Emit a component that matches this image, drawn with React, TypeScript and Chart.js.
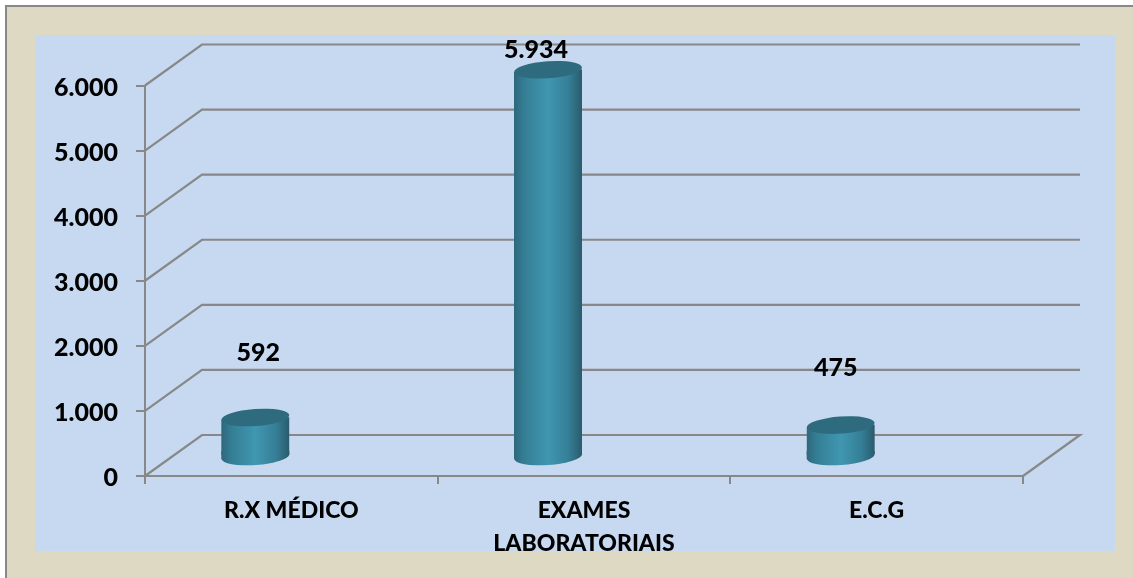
import React, { useEffect, useRef } from "react";
import { Chart, registerables } from "chart.js";

Chart.register(...registerables);

const categories: (string | string[])[] = ["R.X MÉDICO", ["EXAMES", "LABORATORIAIS"], "E.C.G"];
const values = [592, 5934, 475];
const yMax = 6000;
const yStep = 1000;

// Hand-placed offsets of the value labels, from the top of each bar.
const labelDx = [-33, -48, -41];
const labelDy = [-85, -40, -77];

const GRAY = "#888888";
const BEIGE = "#DDD9C3";
const BLUE = "#C6D9F1";
const CAP = "#2F6B7E";
const FONT = "Lato, sans-serif";
const WEIGHT = "900";

const DEPTH_X = 57;
const DEPTH_Y = -41;
const BAR_SHIFT_X = -36;
const BAR_SHIFT_Y = -20;
const BASE_DROP = 1.5;
const BAR_WIDTH = 68;
const CAP_RY = 8.5;
const CAP_TILT = (-4 * Math.PI) / 180;
const CAP_RISE = Math.tan(-CAP_TILT) * (BAR_WIDTH / 2);

const fmt = (v: number) => String(v).replace(/\B(?=(\d{3})+$)/g, ".");

function barGradient(chart: any, index: number) {
  const cx = chart.scales.x.getPixelForValue(index);
  if (!Number.isFinite(cx)) return "#357F97";
  const g = chart.ctx.createLinearGradient(cx - BAR_WIDTH / 2, 0, cx + BAR_WIDTH / 2, 0);
  g.addColorStop(0, "#2E687C");
  g.addColorStop(0.15, "#347E95");
  g.addColorStop(0.5, "#4097B0");
  g.addColorStop(0.8, "#357F97");
  g.addColorStop(1, "#2A5B6D");
  return g;
}

const depthPlugin = {
  id: "depth",
  beforeDraw(chart: any) {
    const { ctx } = chart;
    ctx.save();
    ctx.fillStyle = BLUE;
    ctx.fillRect(35, 35, 1080, 516);
    ctx.restore();
  },
  beforeDatasetsDraw(chart: any) {
    const { ctx, chartArea, scales } = chart;
    ctx.save();
    ctx.strokeStyle = GRAY;
    ctx.lineWidth = 2.2;
    ctx.lineJoin = "miter";
    for (let v = 0; v <= yMax; v += yStep) {
      const y = scales.y.getPixelForValue(v);
      ctx.beginPath();
      ctx.moveTo(chartArea.left, y);
      ctx.lineTo(chartArea.left + DEPTH_X, y + DEPTH_Y);
      ctx.lineTo(chartArea.right + DEPTH_X, y + DEPTH_Y);
      if (v === 0) ctx.lineTo(chartArea.right, y);
      ctx.stroke();
    }
    ctx.restore();
  },
  beforeDatasetDraw(chart: any, args: any) {
    const { ctx } = chart;
    const meta = chart.getDatasetMeta(args.index);
    ctx.save();
    ctx.translate(BAR_SHIFT_X, BAR_SHIFT_Y);
    meta.data.forEach((el: any, i: number) => {
      const l = el.x - BAR_WIDTH / 2;
      const r = el.x + BAR_WIDTH / 2;
      const bottom = el.base + BASE_DROP;
      ctx.fillStyle = barGradient(chart, i);
      ctx.beginPath();
      ctx.ellipse(el.x, bottom, BAR_WIDTH / 2, CAP_RY, CAP_TILT, 0, Math.PI * 2);
      ctx.fill();
      // the slanted foot of the side wall, joining the flat bar end to the base ellipse
      ctx.beginPath();
      ctx.moveTo(l, el.base - 4);
      ctx.lineTo(r, el.base - 4);
      ctx.lineTo(r, bottom - CAP_RISE);
      ctx.lineTo(l, bottom + CAP_RISE);
      ctx.closePath();
      ctx.fill();
    });
    // keep each flat bar top inside the tilted cylinder outline
    ctx.save();
    ctx.beginPath();
    meta.data.forEach((el: any) => {
      const l = el.x - BAR_WIDTH / 2;
      const r = el.x + BAR_WIDTH / 2;
      ctx.moveTo(l, el.y + CAP_RISE);
      ctx.lineTo(r, el.y - CAP_RISE);
      ctx.lineTo(r, el.base + BASE_DROP - CAP_RISE);
      ctx.lineTo(l, el.base + BASE_DROP + CAP_RISE);
      ctx.closePath();
    });
    ctx.clip();
  },
  afterDatasetDraw(chart: any, args: any) {
    const { ctx } = chart;
    const meta = chart.getDatasetMeta(args.index);
    ctx.restore();
    meta.data.forEach((el: any) => {
      ctx.fillStyle = CAP;
      ctx.beginPath();
      ctx.ellipse(el.x, el.y, BAR_WIDTH / 2, CAP_RY, CAP_TILT, 0, Math.PI * 2);
      ctx.fill();
    });
    ctx.restore();
    // value labels
    ctx.save();
    ctx.fillStyle = "#000";
    ctx.font = `${WEIGHT} 25px ${FONT}`;
    ctx.textAlign = "center";
    ctx.textBaseline = "middle";
    meta.data.forEach((el: any, i: number) => {
      ctx.fillText(fmt(values[i]), el.x + labelDx[i], el.y + labelDy[i]);
    });
    ctx.restore();
  },
  afterDraw(chart: any) {
    const { ctx, width, height } = chart;
    ctx.save();
    ctx.beginPath();
    ctx.rect(5, 5, width - 5, height - 5);
    ctx.rect(35, 35, 1080, 516);
    ctx.fillStyle = BEIGE;
    ctx.fill("evenodd");
    ctx.fillStyle = GRAY;
    ctx.fillRect(5, 5, width - 5, 2);
    ctx.fillRect(5, 5, 2, height - 5);
    ctx.restore();
  },
};

export default function App() {
  const ref = useRef<HTMLCanvasElement>(null);
  useEffect(() => {
    const chart = new Chart(ref.current!, {
      type: "bar",
      data: {
        labels: categories as any,
        datasets: [
          {
            data: values,
            clip: false as any,
            borderWidth: 0,
            barThickness: BAR_WIDTH,
            backgroundColor: (c: any) => (c.dataIndex === undefined ? "#357F97" : barGradient(c.chart, c.dataIndex)),
          },
        ],
      },
      options: {
        animation: false,
        responsive: false,
        events: [],
        layout: { padding: { left: 0, top: 85.5, right: 110, bottom: 0 } },
        plugins: { legend: { display: false }, tooltip: { enabled: false }, title: { display: false } },
        scales: {
          x: {
            grid: { drawOnChartArea: false, drawTicks: true, tickLength: 8, color: GRAY, lineWidth: 2 },
            border: { color: GRAY, width: 2 },
            ticks: {
              color: "#000",
              font: { family: FONT, weight: WEIGHT, size: 23, lineHeight: 1.43 },
              padding: 10.5,
              maxRotation: 0,
              autoSkip: false,
            },
            afterFit(s: any) {
              s.height = 102;
              s.paddingLeft = s.paddingRight = s.paddingTop = s.paddingBottom = 0;
            },
          },
          y: {
            min: 0,
            max: yMax,
            grid: { drawOnChartArea: false, drawTicks: true, tickLength: 9, color: GRAY, lineWidth: 2 },
            border: { color: GRAY, width: 2 },
            ticks: {
              stepSize: yStep,
              color: "#000",
              font: { family: FONT, weight: WEIGHT, size: 25 },
              padding: 18,
              labelOffset: 2,
              callback: (v: any) => fmt(Number(v)),
            },
            afterFit(s: any) {
              s.width = 145;
              s.paddingLeft = s.paddingRight = s.paddingTop = s.paddingBottom = 0;
            },
          },
        },
      },
      plugins: [depthPlugin],
    });
    return () => chart.destroy();
  }, []);
  return (
    <canvas
      ref={ref}
      width={1133}
      height={578}
      style={{ position: "fixed", left: 0, top: 0, width: 1133, height: 578, display: "block" }}
    />
  );
}
